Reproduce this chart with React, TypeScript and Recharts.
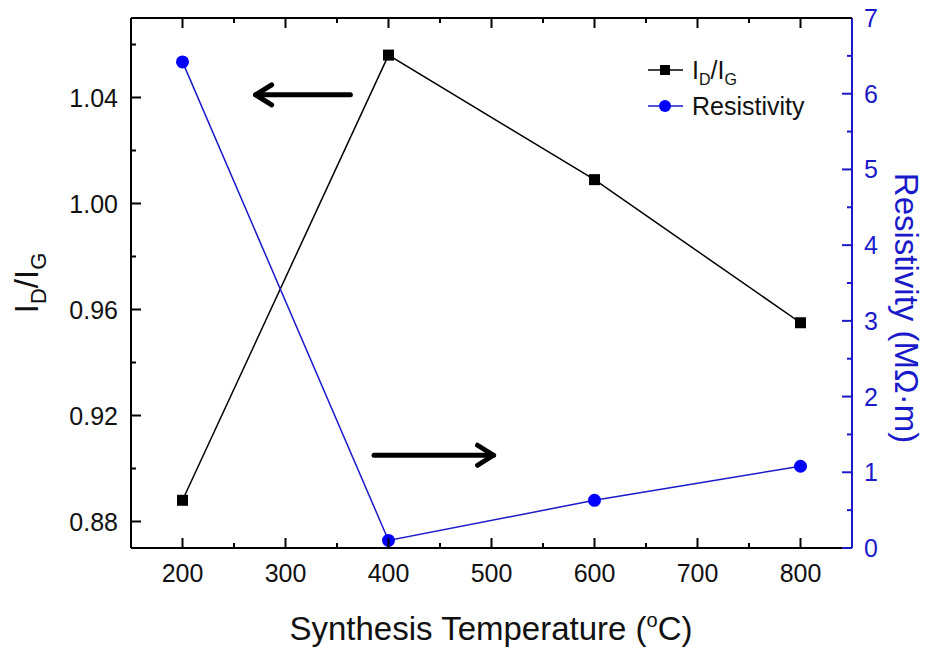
import React from "react";
import {
  ComposedChart,
  Line,
  XAxis,
  YAxis,
  ReferenceLine,
} from "recharts";

const temps = [200, 400, 600, 800];
const idIg = [0.888, 1.056, 1.009, 0.955];
const resistivity = [6.42, 0.1, 0.63, 1.08];

const xTicks = [200, 250, 300, 350, 400, 450, 500, 550, 600, 650, 700, 750, 800];
const leftTicks = [0.88, 0.9, 0.92, 0.94, 0.96, 0.98, 1.0, 1.02, 1.04, 1.06];
const rightTicks = [0, 0.5, 1, 1.5, 2, 2.5, 3, 3.5, 4, 4.5, 5, 5.5, 6, 6.5, 7];
const xDomain = [150, 850];
const leftDomain = [0.87, 1.07];

// annotation arrows: [from, to] in data units (left axis)
const arrowLeft = [{ x: 363, y: 1.041 }, { x: 271, y: 1.041 }];
const arrowRight = [{ x: 386, y: 0.905 }, { x: 502, y: 0.905 }];

const data = temps.map((t, i) => ({ temp: t, idIg: idIg[i], res: resistivity[i] }));

const FONT = "'Liberation Sans', Arial, sans-serif";
const BLUE_LINE = "#1a1ac8";
const BLUE_DOT = "#0000ff";

// plot box (from chart size, margins and axis widths)
const W = 932;
const H = 653;
const LEFT_W = 131;
const RIGHT_W = 80;
const TOP = 18;
const PLOT_L = LEFT_W;
const PLOT_R = W - RIGHT_W;

const BottomTick = ({ x, y, payload }: any) => {
  const major = payload.value % 100 === 0;
  return (
    <g>
      <line x1={x} x2={x} y1={y} y2={y - (major ? 10 : 5)} stroke="#000" strokeWidth={2} />
      {major && (
        <text x={x} y={y + 34} textAnchor="middle" fontSize={25} fontFamily={FONT} fill="#111">
          {payload.value}
        </text>
      )}
    </g>
  );
};

// top frame line plus mirrored ticks hanging from it
const TopFrame = () => {
  const toPx = (v: number) => PLOT_L + ((v - xDomain[0]) / (xDomain[1] - xDomain[0])) * (PLOT_R - PLOT_L);
  return (
    <svg width={W} height={40} style={{ position: "absolute", left: 0, top: 0, pointerEvents: "none" }}>
      <g stroke="#000" strokeWidth={2}>
        <line x1={PLOT_L} x2={PLOT_R} y1={TOP} y2={TOP} />
        {xTicks.map((t) => (
          <line key={t} x1={toPx(t)} x2={toPx(t)} y1={TOP} y2={TOP + (t % 100 === 0 ? 10 : 5)} />
        ))}
      </g>
    </svg>
  );
};

const LeftTick = ({ x, y, payload }: any) => {
  const major = Math.round(payload.value * 100) % 4 === 0;
  return (
    <g>
      <line x1={x} x2={x + (major ? 10 : 5)} y1={y} y2={y} stroke="#000" strokeWidth={2} />
      {major && (
        <text x={x - 13} y={y} dy="0.36em" textAnchor="end" fontSize={25} fontFamily={FONT} fill="#111">
          {payload.value.toFixed(2)}
        </text>
      )}
    </g>
  );
};

const RightTick = ({ x, y, payload }: any) => {
  const major = Number.isInteger(payload.value);
  return (
    <g>
      <line x1={x} x2={x - (major ? 10 : 5)} y1={y} y2={y} stroke={BLUE_LINE} strokeWidth={2} />
      {major && (
        <text x={x + 12} y={y} dy="0.36em" textAnchor="start" fontSize={25} fontFamily={FONT} fill={BLUE_LINE}>
          {payload.value}
        </text>
      )}
    </g>
  );
};

const SquareDot = ({ cx, cy, index }: any) => (
  <rect key={`sq-${index}`} x={cx - 5.5} y={cy - 5.5} width={11} height={11} fill="#000" />
);

const CircleDot = ({ cx, cy, index }: any) => (
  <circle key={`ci-${index}`} cx={cx} cy={cy} r={6.5} fill={BLUE_DOT} />
);

const Arrow = ({ x1, y1, x2, y2 }: any) => {
  const dir = x2 > x1 ? 1 : -1;
  return (
    <g stroke="#000" strokeWidth={5} strokeLinecap="round" strokeLinejoin="round" fill="none">
      <line x1={x1} y1={y1} x2={x2} y2={y2} />
      <polyline points={`${x2 - dir * 16},${y2 - 10} ${x2},${y2} ${x2 - dir * 16},${y2 + 10}`} />
    </g>
  );
};

const LegendBox = () => (
  <svg width={200} height={80} style={{ overflow: "visible", display: "block" }}>
    <g>
      <line x1={8} x2={43} y1={20} y2={20} stroke="#000" strokeWidth={1.5} />
      <rect x={20} y={15} width={10} height={10} fill="#000" />
      <text x={52} y={29} fontSize={25} fontFamily={FONT} fill="#111">
        I<tspan fontSize={16} dy={6}>D</tspan>
        <tspan dy={-6}>/I</tspan>
        <tspan fontSize={16} dy={6}>G</tspan>
      </text>
    </g>
    <g>
      <line x1={8} x2={43} y1={56} y2={56} stroke={BLUE_LINE} strokeWidth={1.5} />
      <circle cx={25} cy={56} r={6} fill={BLUE_DOT} />
      <text x={52} y={65} fontSize={25} fontFamily={FONT} fill="#111">
        Resistivity
      </text>
    </g>
  </svg>
);

export default function App() {
  return (
    <div style={{ position: "absolute", left: 0, top: 0, width: W, height: H, background: "#fff" }}>
      <ComposedChart width={W} height={H} data={data} margin={{ top: TOP, right: 0, bottom: 0, left: 0 }}>
        <XAxis
          xAxisId="bottom"
          dataKey="temp"
          type="number"
          domain={xDomain}
          ticks={xTicks}
          interval={0}
          height={105}
          tickSize={0}
          tickMargin={0}
          tick={<BottomTick />}
          axisLine={{ stroke: "#000", strokeWidth: 2 }}
          label={{
            content: () => (
              <text x={491} y={640} textAnchor="middle" fontSize={33} fontFamily={FONT} fill="#111">
                Synthesis Temperature (<tspan fontSize={20} dy={-13}>o</tspan>
                <tspan dy={13}>C)</tspan>
              </text>
            ),
          }}
        />
        <YAxis
          yAxisId="left"
          type="number"
          domain={leftDomain}
          ticks={leftTicks}
          interval={0}
          width={LEFT_W}
          tickSize={0}
          tickMargin={0}
          tick={<LeftTick />}
          axisLine={{ stroke: "#000", strokeWidth: 2 }}
          label={{
            content: () => (
              <text
                x={38}
                y={283}
                textAnchor="middle"
                transform="rotate(-90, 38, 283)"
                fontSize={33}
                fontFamily={FONT}
                fill="#111"
              >
                I<tspan fontSize={22} dy={8}>D</tspan>
                <tspan dy={-8}>/I</tspan>
                <tspan fontSize={22} dy={8}>G</tspan>
              </text>
            ),
          }}
        />
        <YAxis
          yAxisId="right"
          orientation="right"
          type="number"
          domain={[0, 7]}
          ticks={rightTicks}
          interval={0}
          width={RIGHT_W}
          tickSize={0}
          tickMargin={0}
          tick={<RightTick />}
          axisLine={{ stroke: BLUE_LINE, strokeWidth: 2 }}
          label={{
            content: () => (
              <text
                x={895}
                y={308}
                textAnchor="middle"
                transform="rotate(90, 895, 308)"
                fontSize={33}
                fontFamily={FONT}
                fill={BLUE_LINE}
              >
                Resistivity (MΩ·m)
              </text>
            ),
          }}
        />
        <Line
          xAxisId="bottom"
          yAxisId="left"
          dataKey="idIg"
          stroke="#000"
          strokeWidth={1.5}
          dot={SquareDot}
          activeDot={false}
          isAnimationActive={false}
        />
        <Line
          xAxisId="bottom"
          yAxisId="right"
          dataKey="res"
          stroke={BLUE_LINE}
          strokeWidth={1.5}
          dot={CircleDot}
          activeDot={false}
          isAnimationActive={false}
        />
        <ReferenceLine xAxisId="bottom" yAxisId="left" segment={arrowLeft} shape={Arrow} />
        <ReferenceLine xAxisId="bottom" yAxisId="left" segment={arrowRight} shape={Arrow} />
      </ComposedChart>
      <TopFrame />
      <div style={{ position: "absolute", left: 640, top: 50 }}>
        <LegendBox />
      </div>
    </div>
  );
}
